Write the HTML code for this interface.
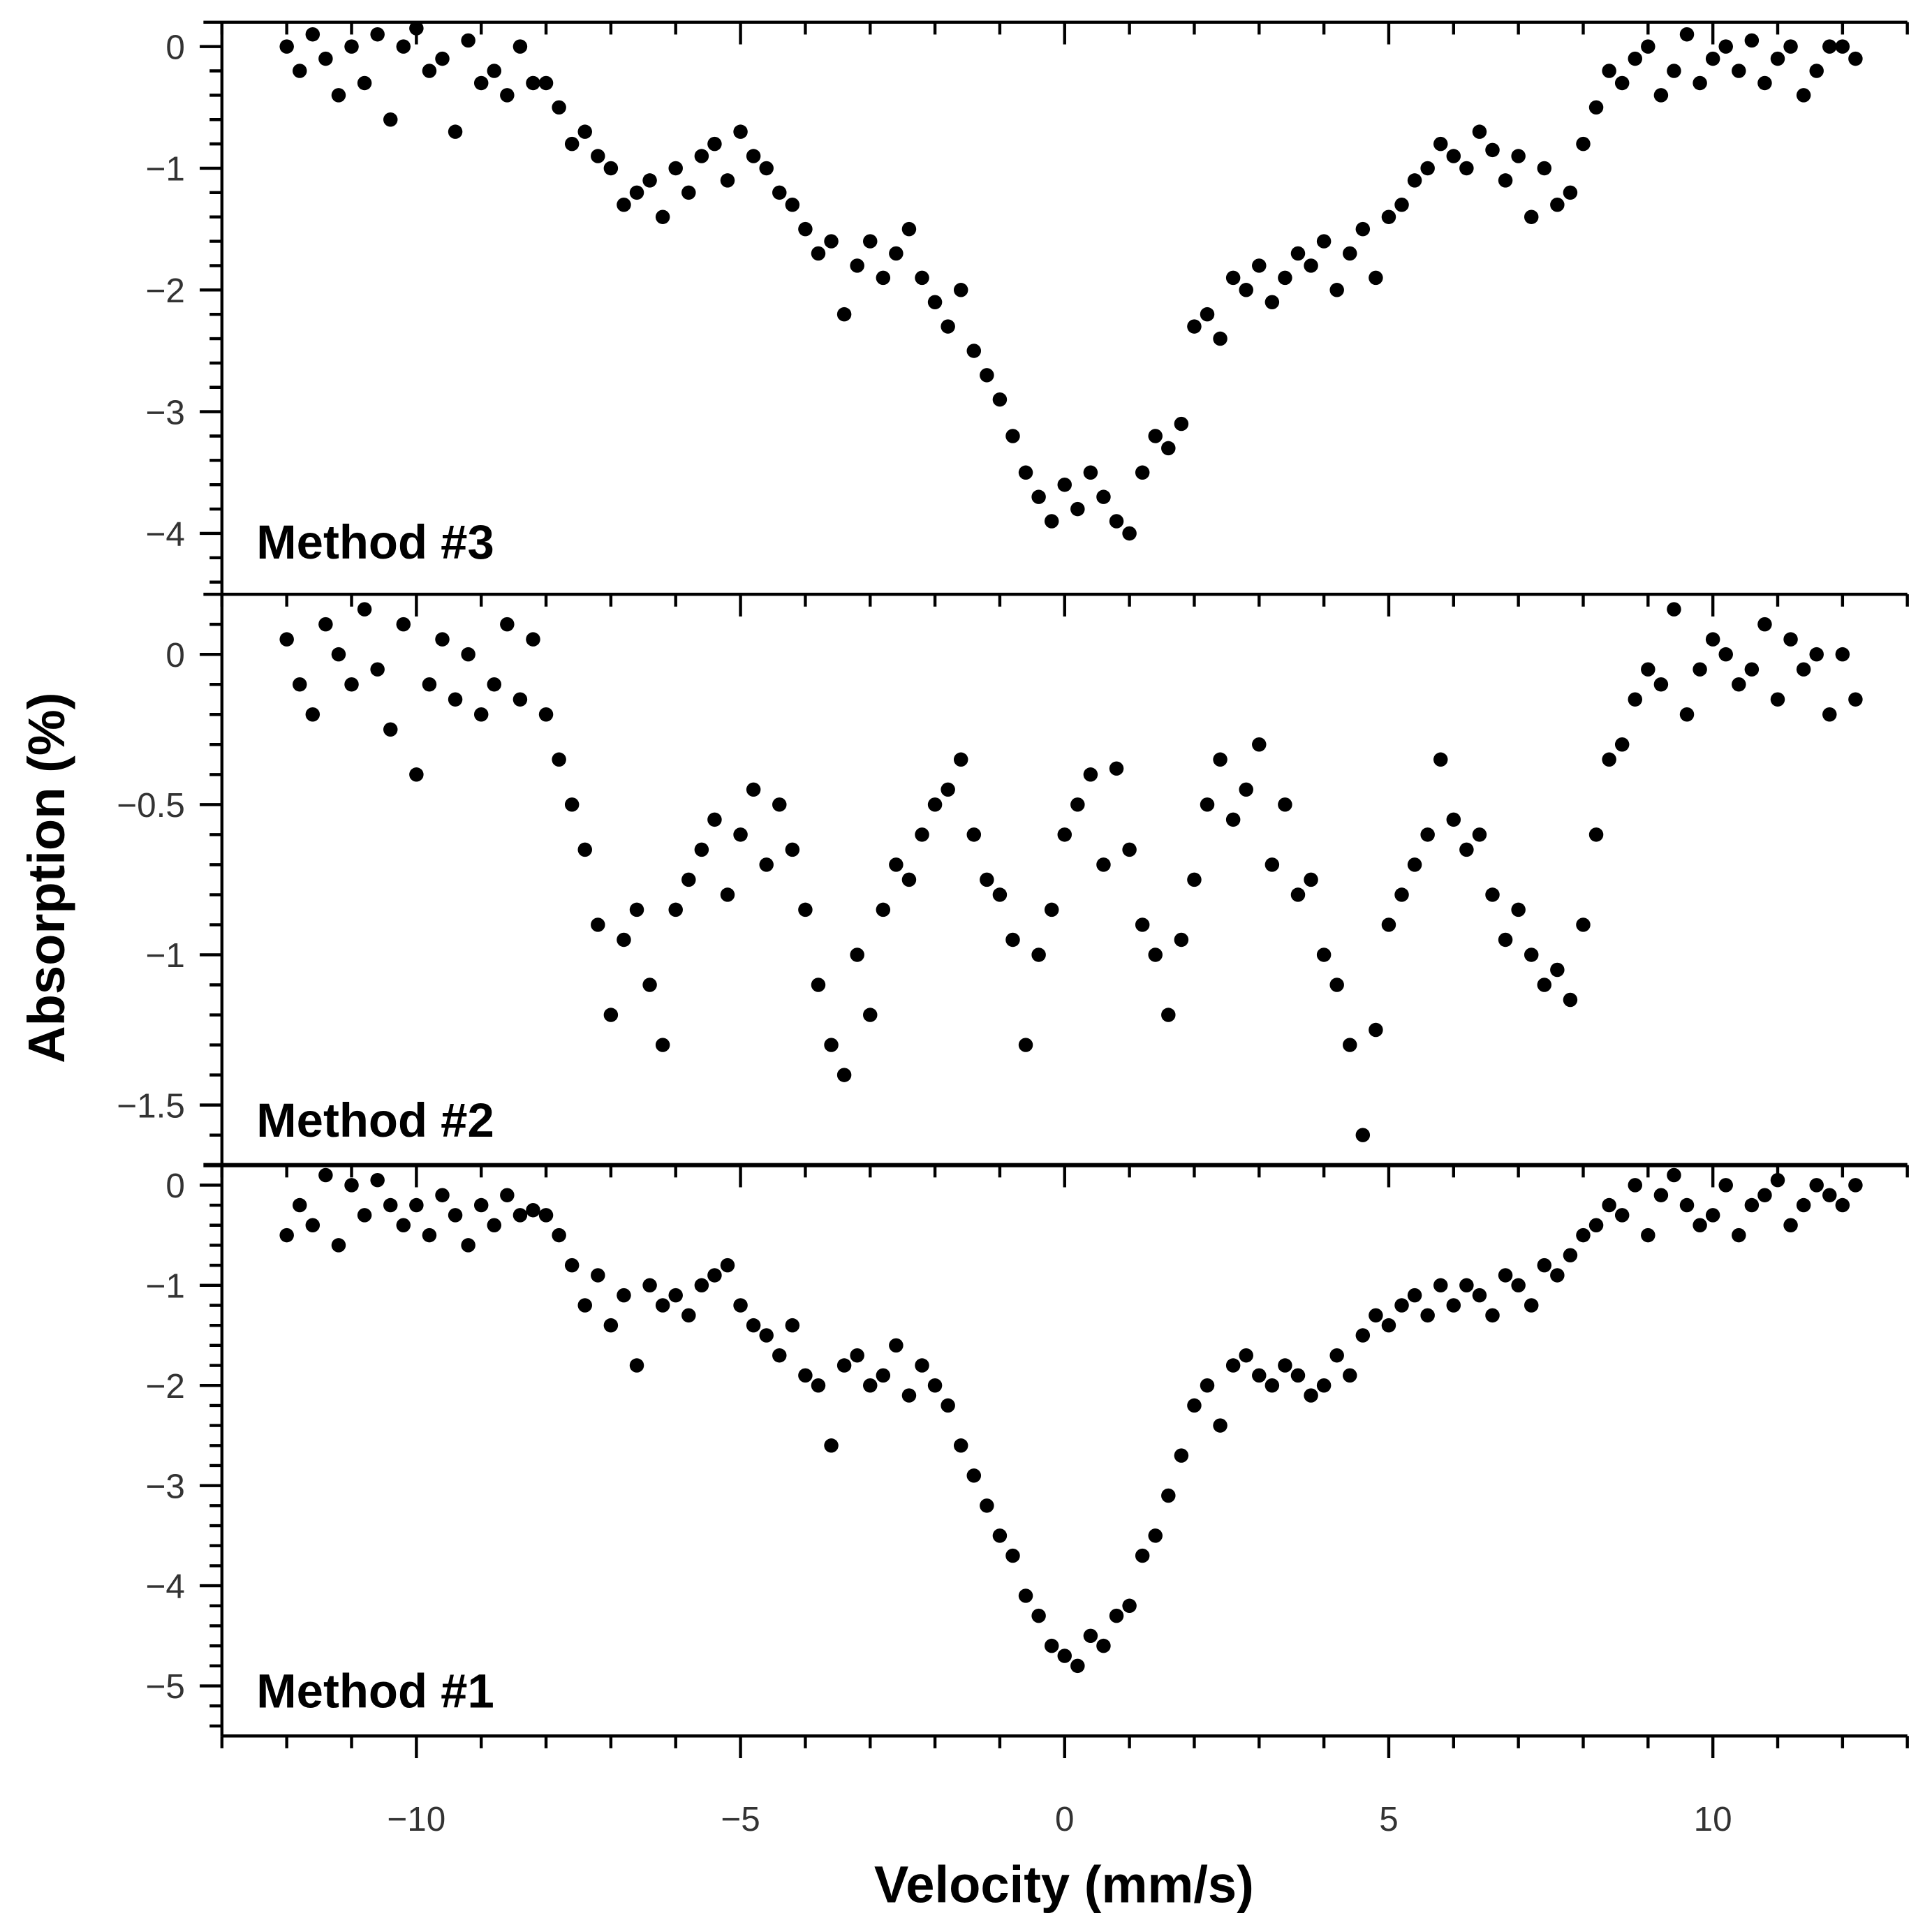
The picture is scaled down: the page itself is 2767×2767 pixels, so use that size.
<!DOCTYPE html>
<html><head><meta charset="utf-8">
<style>
html,body{margin:0;padding:0;background:#fff;}
svg{display:block;}
text{font-family:"Liberation Sans","DejaVu Sans",sans-serif;}
</style></head>
<body>
<svg id="chart" xmlns="http://www.w3.org/2000/svg" width="2767" height="2767" viewBox="0 0 1567 1567">
<rect width="1567" height="1567" fill="#fff"/>
<g id="layer"></g>
<text transform="translate(52,712) rotate(-90)" text-anchor="middle" font-size="42" font-weight="bold" fill="#000">Absorption (%)</text>
<text x="863" y="1543" text-anchor="middle" font-size="42" font-weight="bold" fill="#000">Velocity (mm/s)</text>
</svg>
<script>
const velocities = [-12,-11.8,-11.6,-11.4,-11.2,-11,-10.8,-10.6,-10.4,-10.2,
-10,-9.8,-9.6,-9.4,-9.2,-9,-8.8,-8.6,-8.4,-8.2,
-8,-7.8,-7.6,-7.4,-7.2,-7,-6.8,-6.6,-6.4,-6.2,
-6,-5.8,-5.6,-5.4,-5.2,-5,-4.8,-4.6,-4.4,-4.2,
-4,-3.8,-3.6,-3.4,-3.2,-3,-2.8,-2.6,-2.4,-2.2,
-2,-1.8,-1.6,-1.4,-1.2,-1,-0.8,-0.6,-0.4,-0.2,
0,0.2,0.4,0.6,0.8,1,1.2,1.4,1.6,1.8,
2,2.2,2.4,2.6,2.8,3,3.2,3.4,3.6,3.8,
4,4.2,4.4,4.6,4.8,5,5.2,5.4,5.6,5.8,
6,6.2,6.4,6.6,6.8,7,7.2,7.4,7.6,7.8,
8,8.2,8.4,8.6,8.8,9,9.2,9.4,9.6,9.8,
10,10.2,10.4,10.6,10.8,11,11.2,11.4,11.6,11.8,
12,12.2];
const method3 = [0.0,-0.2,0.1,-0.1,-0.4,0.0,-0.3,0.1,-0.6,0.0,
0.15,-0.2,-0.1,-0.7,0.05,-0.3,-0.2,-0.4,0.0,-0.3,
-0.3,-0.5,-0.8,-0.7,-0.9,-1.0,-1.3,-1.2,-1.1,-1.4,
-1.0,-1.2,-0.9,-0.8,-1.1,-0.7,-0.9,-1.0,-1.2,-1.3,
-1.5,-1.7,-1.6,-2.2,-1.8,-1.6,-1.9,-1.7,-1.5,-1.9,
-2.1,-2.3,-2.0,-2.5,-2.7,-2.9,-3.2,-3.5,-3.7,-3.9,
-3.6,-3.8,-3.5,-3.7,-3.9,-4.0,-3.5,-3.2,-3.3,-3.1,
-2.3,-2.2,-2.4,-1.9,-2.0,-1.8,-2.1,-1.9,-1.7,-1.8,
-1.6,-2.0,-1.7,-1.5,-1.9,-1.4,-1.3,-1.1,-1.0,-0.8,
-0.9,-1.0,-0.7,-0.85,-1.1,-0.9,-1.4,-1.0,-1.3,-1.2,
-0.8,-0.5,-0.2,-0.3,-0.1,0.0,-0.4,-0.2,0.1,-0.3,
-0.1,0.0,-0.2,0.05,-0.3,-0.1,0.0,-0.4,-0.2,0.0,
0.0,-0.1];
const method2 = [0.05,-0.1,-0.2,0.1,0.0,-0.1,0.15,-0.05,-0.25,0.1,
-0.4,-0.1,0.05,-0.15,0.0,-0.2,-0.1,0.1,-0.15,0.05,
-0.2,-0.35,-0.5,-0.65,-0.9,-1.2,-0.95,-0.85,-1.1,-1.3,
-0.85,-0.75,-0.65,-0.55,-0.8,-0.6,-0.45,-0.7,-0.5,-0.65,
-0.85,-1.1,-1.3,-1.4,-1.0,-1.2,-0.85,-0.7,-0.75,-0.6,
-0.5,-0.45,-0.35,-0.6,-0.75,-0.8,-0.95,-1.3,-1.0,-0.85,
-0.6,-0.5,-0.4,-0.7,-0.38,-0.65,-0.9,-1.0,-1.2,-0.95,
-0.75,-0.5,-0.35,-0.55,-0.45,-0.3,-0.7,-0.5,-0.8,-0.75,
-1.0,-1.1,-1.3,-1.6,-1.25,-0.9,-0.8,-0.7,-0.6,-0.35,
-0.55,-0.65,-0.6,-0.8,-0.95,-0.85,-1.0,-1.1,-1.05,-1.15,
-0.9,-0.6,-0.35,-0.3,-0.15,-0.05,-0.1,0.15,-0.2,-0.05,
0.05,0.0,-0.1,-0.05,0.1,-0.15,0.05,-0.05,0.0,-0.2,
0.0,-0.15];
const method1 = [-0.5,-0.2,-0.4,0.1,-0.6,0.0,-0.3,0.05,-0.2,-0.4,
-0.2,-0.5,-0.1,-0.3,-0.6,-0.2,-0.4,-0.1,-0.3,-0.25,
-0.3,-0.5,-0.8,-1.2,-0.9,-1.4,-1.1,-1.8,-1.0,-1.2,
-1.1,-1.3,-1.0,-0.9,-0.8,-1.2,-1.4,-1.5,-1.7,-1.4,
-1.9,-2.0,-2.6,-1.8,-1.7,-2.0,-1.9,-1.6,-2.1,-1.8,
-2.0,-2.2,-2.6,-2.9,-3.2,-3.5,-3.7,-4.1,-4.3,-4.6,
-4.7,-4.8,-4.5,-4.6,-4.3,-4.2,-3.7,-3.5,-3.1,-2.7,
-2.2,-2.0,-2.4,-1.8,-1.7,-1.9,-2.0,-1.8,-1.9,-2.1,
-2.0,-1.7,-1.9,-1.5,-1.3,-1.4,-1.2,-1.1,-1.3,-1.0,
-1.2,-1.0,-1.1,-1.3,-0.9,-1.0,-1.2,-0.8,-0.9,-0.7,
-0.5,-0.4,-0.2,-0.3,0.0,-0.5,-0.1,0.1,-0.2,-0.4,
-0.3,0.0,-0.5,-0.2,-0.1,0.05,-0.4,-0.2,0.0,-0.1,
-0.2,0.0];
const xTickLabels = ["−10","−5","0","5","10"];
const xTickValues = [-10,-5,0,5,10];
const ticks3 = [0,-1,-2,-3,-4];
const ticks2 = [0,-0.5,-1,-1.5];
const ticks1 = [0,-1,-2,-3,-4,-5];

const NS="http://www.w3.org/2000/svg";
const layer=document.getElementById('layer');
const L=180,R=1547;
const xMin=-13,xMax=13;
const sx=v=>L+(v-xMin)/(xMax-xMin)*(R-L);
function mk(tag,attrs){const e=document.createElementNS(NS,tag);for(const k in attrs)e.setAttribute(k,attrs[k]);layer.appendChild(e);return e;}
const fmt=v=>(v<0?"−":"")+Math.abs(v);

const panels=[
 {name:"method-3",label:"Method #3",data:method3,top:18,bot:482,yMax:0.2,yMin:-4.5,ticks:ticks3,minor:0.2,labelY:453},
 {name:"method-2",label:"Method #2",data:method2,top:482,bot:945,yMax:0.2,yMin:-1.7,ticks:ticks2,minor:0.1,labelY:922},
 {name:"method-1",label:"Method #1",data:method1,top:945,bot:1408,yMax:0.2,yMin:-5.5,ticks:ticks1,minor:0.2,labelY:1385}
];
panels.forEach((p,pi)=>{
 const sy=v=>p.top+(p.yMax-v)/(p.yMax-p.yMin)*(p.bot-p.top);
 const tl=mk('line',{x1:L-15,x2:R,y1:p.top,y2:p.top,stroke:'#000','stroke-width':pi==2?3.5:2.5});
 
 
 for(let v=-13;v<=13;v++){
  const maj=v%5===0;
  const t=mk('line',{x1:sx(v),x2:sx(v),y1:p.top,y2:p.top+(maj?18:10),stroke:'#000','stroke-width':2.5});
  
  
 }
 const la=mk('line',{x1:L,x2:L,y1:p.top,y2:p.bot,stroke:'#000','stroke-width':2.5});
 
 
 const kStart=Math.ceil(p.yMin/p.minor-1e-6), kEnd=Math.floor(p.yMax/p.minor+1e-6);
 for(let k=kStart;k<=kEnd;k++){
  const v=k*p.minor;
  if(v>p.yMax-0.05||v<p.yMin+0.05) continue;
  const maj=p.ticks.some(t=>Math.abs(t-v)<1e-6);
  const t=mk('line',{x1:L-(maj?18:10),x2:L,y1:sy(v),y2:sy(v),stroke:'#000','stroke-width':2.5});
  
  
 }
 p.ticks.forEach(v=>{
  const t=mk('text',{x:150,y:sy(v)+10,'text-anchor':'end','font-size':28,fill:'#333'});
  t.textContent=fmt(v);
  
  
 });
 p.data.forEach((v,i)=>{
  const c=mk('circle',{cx:sx(velocities[i]),cy:sy(v),r:5.8,fill:'#000'});
  
  
 });
 const lab=mk('text',{x:208,y:p.labelY,'font-size':39,'font-weight':'bold',fill:'#000'});
 lab.textContent=p.label;
 
 
});
const ba=mk('line',{x1:L,x2:R,y1:1408,y2:1408,stroke:'#000','stroke-width':2.5});


for(let v=-13;v<=13;v++){
 const maj=v%5===0;
 const t=mk('line',{x1:sx(v),x2:sx(v),y1:1408,y2:1408+(maj?18:10),stroke:'#000','stroke-width':2.5});
 
 
}
xTickValues.forEach((v,i)=>{
 const t=mk('text',{x:sx(v),y:1485,'text-anchor':'middle','font-size':28,fill:'#333'});
 t.textContent=xTickLabels[i];
 
 
});
</script>
</body></html>
